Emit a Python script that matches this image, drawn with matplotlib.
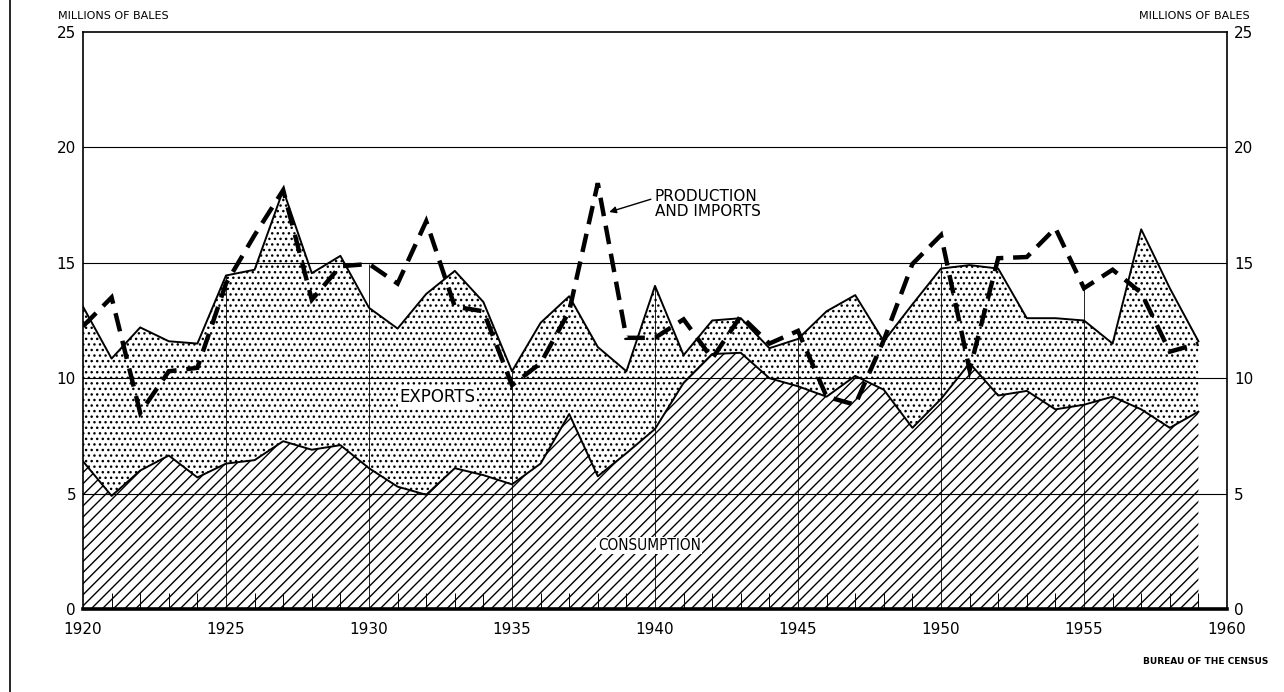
import matplotlib
matplotlib.use("Agg")
import matplotlib.pyplot as plt
from matplotlib.lines import Line2D
import numpy as np

# cotton supply and distribution, millions of bales
years = list(range(1920, 1960))

consumption = [6.4, 4.9, 6.0, 6.65, 5.7, 6.3, 6.45, 7.27, 6.9, 7.1,
               6.1, 5.3, 4.95, 6.1, 5.8, 5.4, 6.3, 8.45, 5.75, 6.75,
               7.8, 9.8, 11.05, 11.1, 10.0, 9.65, 9.2, 10.1, 9.5, 7.85,
               9.1, 10.65, 9.25, 9.45, 8.65, 8.85, 9.2, 8.65, 7.85, 8.55]

exports = [6.7, 5.95, 6.2, 4.95, 5.8, 8.15, 8.25, 10.88, 7.65, 8.2,
           6.95, 6.85, 8.7, 8.55, 7.5, 4.9, 6.1, 5.1, 5.6, 3.55,
           6.2, 1.2, 1.45, 1.5, 1.3, 2.05, 3.7, 3.5, 2.1, 5.35,
           5.65, 4.25, 5.5, 3.15, 3.95, 3.65, 2.3, 7.8, 6.05, 3.05]

production_imports = [12.25, 13.5, 8.5, 10.3, 10.45, 14.1, 16.2, 18.15, 13.4, 14.85,
                      14.95, 14.1, 16.8, 13.1, 12.9, 9.7, 10.65, 12.9, 18.45, 11.75,
                      11.75, 12.55, 10.85, 12.7, 11.5, 12.05, 9.2, 8.85, 11.65, 14.95,
                      16.2, 10.35, 15.2, 15.25, 16.5, 13.9, 14.7, 13.7, 11.15, 11.5]

y_ticks = [0, 5, 10, 15, 20, 25]
x_ticks = [1920, 1925, 1930, 1935, 1940, 1945, 1950, 1955, 1960]

plt.rcParams['font.family'] = 'DejaVu Sans'
plt.rcParams['hatch.linewidth'] = 1.0
plt.rcParams['hatch.color'] = 'black'

yrs = np.array(years)
cons = np.array(consumption)
total = cons + np.array(exports)
prod = np.array(production_imports)

fig = plt.figure(figsize=(12.84, 6.92), dpi=100)
ax = fig.add_axes([83 / 1284, 1 - 609 / 692, (1227 - 83) / 1284, (609 - 32) / 692])

ax.fill_between(yrs, 0, cons, facecolor='white', edgecolor='black',
                hatch='///', linewidth=0, zorder=1)
ax.fill_between(yrs, cons, total, facecolor='white', edgecolor='black',
                hatch='...', linewidth=0, zorder=1)

# grid drawn over the fills, like the original
for v in y_ticks[1:-1]:
    ax.axhline(v, color='black', lw=0.8, zorder=2)
# vertical rulings stop at the curves (or at the 15 line)
for v in x_ticks[1:-1]:
    i = years.index(v)
    top = min(15, max(total[i], prod[i]))
    ax.vlines(v, 0, top, color='black', lw=0.6, zorder=2)

ax.plot(yrs, cons, color='black', lw=1.4, zorder=3)
ax.plot(yrs, total, color='black', lw=1.4, zorder=3)
ax.plot(yrs, prod, color='black', lw=3.2, zorder=4,
        dashes=(4.2, 2.2), solid_joinstyle='miter', dash_joinstyle='miter')

ax.set_xlim(1920, 1960)
ax.set_ylim(0, 25)
ax.set_xticks(x_ticks)
ax.set_xticks(years, minor=True)
ax.set_yticks(y_ticks)
ax.tick_params(axis='x', which='major', length=0, pad=9, labelsize=11)
ax.tick_params(axis='x', which='minor', direction='in', length=11.5, width=0.7)
ax.tick_params(axis='y', length=0, pad=5, labelsize=11,
               labelleft=True, labelright=True)
for s in ['left', 'right', 'top']:
    ax.spines[s].set_linewidth(1.2)
ax.spines['bottom'].set_linewidth(2.6)

ax.text(1932.4, 9.2, 'EXPORTS', ha='center', va='center', fontsize=12,
        zorder=5, bbox=dict(facecolor='white', edgecolor='none', pad=1))
ax.text(1939.8, 2.75, 'CONSUMPTION', ha='center', va='center', fontsize=11,
        fontstretch='condensed', zorder=5,
        bbox=dict(facecolor='white', edgecolor='none', pad=1))
ax.annotate('PRODUCTION\nAND IMPORTS', xy=(1938.4, 17.2), xytext=(1940.0, 17.55),
            ha='left', va='center', fontsize=11, linespacing=1.0, zorder=5,
            arrowprops=dict(arrowstyle='-|>', color='black', lw=1,
                            mutation_scale=10, shrinkA=1, shrinkB=0,
                            relpos=(0, 0.7)))

fig.text(58 / 1284, 1 - 16 / 692, 'MILLIONS OF BALES', ha='left', va='center', fontsize=8)
fig.text(1250 / 1284, 1 - 16 / 692, 'MILLIONS OF BALES', ha='right', va='center', fontsize=8)
fig.text(1268 / 1284, 1 - 662 / 692, 'BUREAU OF THE CENSUS', ha='right', va='center',
         fontsize=6.5, fontweight='bold')

# page edge on the left of the original scan
fig.add_artist(Line2D([10 / 1284, 10 / 1284], [0, 1], color='black', lw=1.2))

fig.savefig('out.png', dpi=100)
